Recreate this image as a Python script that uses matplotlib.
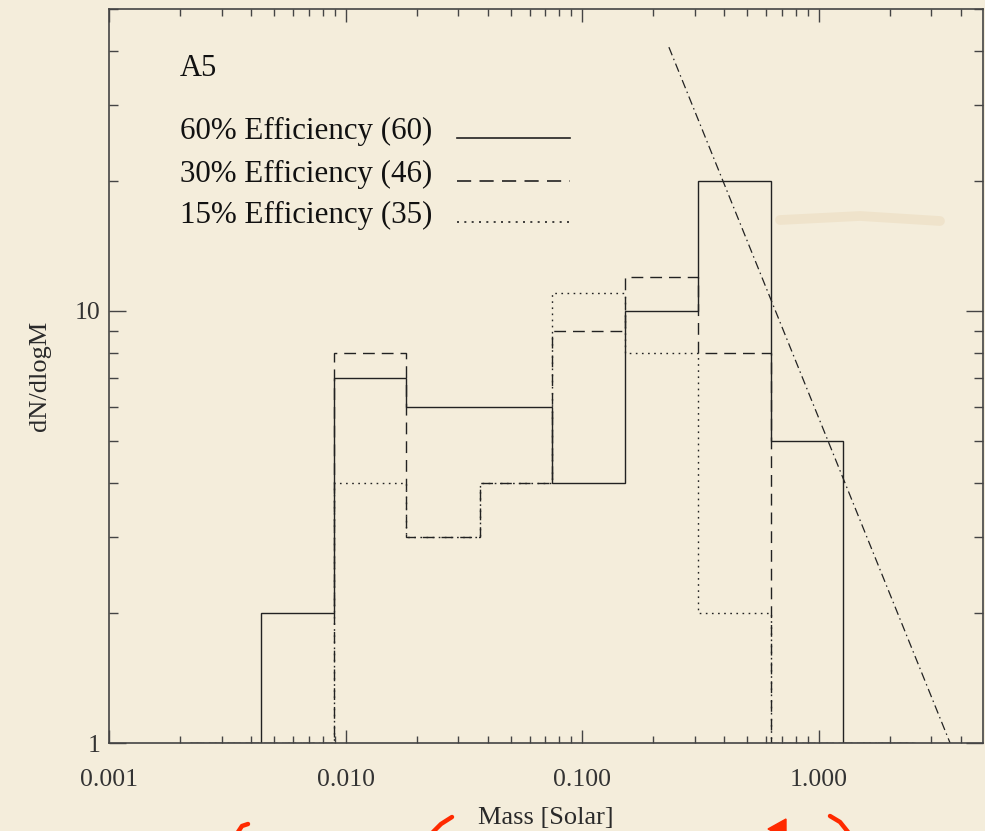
import numpy as np
import matplotlib
matplotlib.use("Agg")
import matplotlib.pyplot as plt
from matplotlib.lines import Line2D
from matplotlib.patches import Polygon
from matplotlib.ticker import FixedLocator, FixedFormatter, LogLocator, NullFormatter

# Histogram data (dN/dlogM per mass bin)
bin_edges = [0.0022, 0.0044, 0.0089, 0.018, 0.037, 0.075, 0.152, 0.309, 0.63, 1.27, 2.56]
eff60 = [1, 2, 7, 6, 6, 4, 10, 20, 5, 1]
eff30 = [1, 1, 8, 3, 4, 9, 12, 8, 1, 1]
eff15 = [1, 1, 4, 3, 4, 11, 8, 2, 1, 1]

# Salpeter-like reference line
salp_mass = [0.233, 3.6]
salp_dn = [40.8, 1.0]

labels = ["60% Efficiency (60)", "30% Efficiency (46)", "15% Efficiency (35)"]
xticks = [0.001, 0.01, 0.1, 1.0]
xticklabels = ["0.001", "0.010", "0.100", "1.000"]
yticks = [1, 10]
yticklabels = ["1", "10"]

bg = "#f4eddb"
ink = "#222222"
axc = "#444444"
serif = ["Liberation Serif", "DejaVu Serif"]
plt.rcParams["font.family"] = serif

W, H = 985, 831
fig = plt.figure(figsize=(W / 100, H / 100), dpi=100, facecolor=bg)
ax = fig.add_axes([109 / W, 1 - 743 / H, (983 - 109) / W, (743 - 9) / H])
ax.set_facecolor(bg)

ax.set_xscale("log")
ax.set_yscale("log")
ax.set_xlim(0.001, 4.96)
ax.set_ylim(1, 50)

dash = (0, (8.5, 5))
dot = (0, (1.2, 3.2))
ax.stairs(eff60, bin_edges, baseline=None, color=ink, lw=1.0, linestyle="-")
ax.stairs(eff30, bin_edges, baseline=None, color=ink, lw=1.0, linestyle=dash)
ax.stairs(eff15, bin_edges, baseline=None, color=ink, lw=1.0, linestyle=dot)
ax.plot(salp_mass, salp_dn, color=ink, lw=0.9, linestyle=(0, (7, 3, 1.2, 3)))

# ticks
ax.xaxis.set_major_locator(FixedLocator(xticks))
ax.xaxis.set_major_formatter(FixedFormatter(xticklabels))
ax.xaxis.set_minor_locator(LogLocator(base=10, subs=np.arange(2, 10)))
ax.xaxis.set_minor_formatter(NullFormatter())
ax.yaxis.set_major_locator(FixedLocator(yticks))
ax.yaxis.set_major_formatter(FixedFormatter(yticklabels))
ax.yaxis.set_minor_locator(LogLocator(base=10, subs=np.arange(2, 10)))
ax.yaxis.set_minor_formatter(NullFormatter())

ax.tick_params(axis="x", which="major", direction="in", length=9.5, width=1.0,
               color=axc, top=True, pad=19, labelsize=18.5, labelcolor="#333333")
ax.tick_params(axis="x", which="minor", direction="in", length=5, width=1.0,
               color=axc, top=True)
ax.tick_params(axis="y", which="major", direction="in", length=12.5, width=1.0,
               color=axc, right=True, pad=6, labelsize=18.5, labelcolor="#333333")
ax.tick_params(axis="y", which="minor", direction="in", length=6.5, width=1.0,
               color=axc, right=True)
for s in ax.spines.values():
    s.set_color(axc)
    s.set_linewidth(1.2)

# axis titles
fig.text(546 / W, 1 - 824 / H, "Mass [Solar]", ha="center", va="baseline",
         fontsize=19, color="#2a2a2a")
fig.text(40 / W, 1 - 376 / H, "dN/dlogM", ha="center", va="center",
         rotation=90, fontsize=19, color="#2a2a2a")

# in-plot legend
fig.text(180 / W, 1 - 76 / H, "A5", ha="left", va="baseline", fontsize=22, color="#111111")
styles = ["-", dash, dot]
bases = [139, 182, 223]
for lab, ls, yb in zip(labels, styles, bases):
    fig.text(180 / W, 1 - yb / H, lab, ha="left", va="baseline", fontsize=22.3, color="#111111")
    fig.add_artist(Line2D([457 / W, 570 / W], [1 - (yb - 1) / H, 1 - (yb - 1) / H],
                          color=ink, lw=1.2, linestyle=ls, transform=fig.transFigure))

# faint stain on the paper
fig.add_artist(Line2D([780 / W, 860 / W, 940 / W], [1 - 220 / H, 1 - 216 / H, 1 - 221 / H],
                      color="#d8b47e", lw=7, alpha=0.17, solid_capstyle="round",
                      transform=fig.transFigure))

# red pen marks at the bottom edge
red = "#ff2a00"
def fpts(pts):
    return [p[0] / W for p in pts], [1 - p[1] / H for p in pts]

for pts in ([(238, 832), (242, 826), (248, 824)],
            [(433, 832), (441, 824), (452, 817)],
            [(830, 816), (840, 822), (848, 832)]):
    xs, ys = fpts(pts)
    fig.add_artist(Line2D(xs, ys, color=red, lw=3.2, solid_capstyle="round",
                          transform=fig.transFigure))
xs, ys = fpts([(768, 829), (786, 819), (786, 832), (774, 832)])
fig.add_artist(Polygon(list(zip(xs, ys)), closed=True, color=red, transform=fig.transFigure))

fig.savefig("out.png", dpi=100, facecolor=bg)
